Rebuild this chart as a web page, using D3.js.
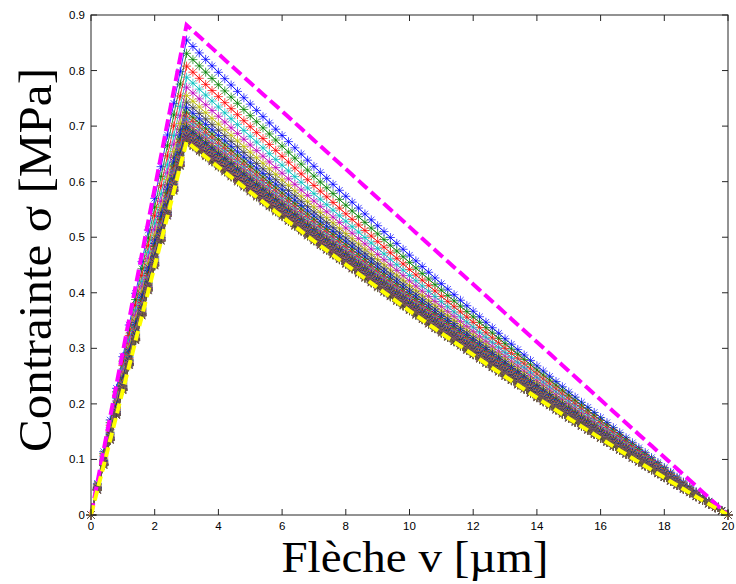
<!DOCTYPE html>
<html><head><meta charset="utf-8">
<script src="https://cdn.jsdelivr.net/npm/d3@7/dist/d3.min.js"></script>
<style>body{margin:0;background:#fff}svg{display:block}</style>
</head><body><svg id="c" width="736" height="584"></svg>
<script>
// ---- data ----
const xTicks = [0, 2, 4, 6, 8, 10, 12, 14, 16, 18, 20];
const yTicks = [0, 0.1, 0.2, 0.3, 0.4, 0.5, 0.6, 0.7, 0.8, 0.9];
const yTickLabels = ["0", "0.1", "0.2", "0.3", "0.4", "0.5", "0.6", "0.7", "0.8", "0.9"];
const peakDeflection = 3;     // µm
const endDeflection = 20;     // µm
const sampleStep = 0.2;       // µm between stored points
// relative stress (stress / peak stress) on the softening branch
const softeningDeflection = [3, 4, 5, 6, 7, 8, 9, 10, 11, 12, 13, 14, 15, 16, 17, 18, 19, 20];
const softeningCurved = [1, 0.932, 0.865, 0.799, 0.734, 0.671, 0.609, 0.547, 0.487, 0.429, 0.371, 0.314, 0.259, 0.205, 0.152, 0.100, 0.049, 0];
const softeningStraight = [1, 0.941, 0.882, 0.824, 0.765, 0.706, 0.647, 0.588, 0.529, 0.471, 0.412, 0.353, 0.294, 0.235, 0.176, 0.118, 0.059, 0];
const upperBoundPeak = 0.882; // magenta dashed
const lowerBoundPeak = 0.672; // yellow dashed
const seriesPeaks = [0.855, 0.831, 0.808, 0.788, 0.770, 0.755, 0.743, 0.733, 0.725, 0.718,
  0.712, 0.707, 0.703, 0.699, 0.696, 0.693, 0.690, 0.688, 0.686, 0.684,
  0.682, 0.681, 0.680, 0.679, 0.678, 0.677, 0.676, 0.675, 0.675, 0.674,
  0.674, 0.673, 0.673, 0.672, 0.672];
const colorOrder = ["#0000ff", "#008000", "#ff0000", "#00bfbf", "#bf00bf", "#bfbf00", "#404040"];

// ---- layout ----
const svg = d3.select("#c");
const L = 91, R = 728, T = 15, B = 515;
const x = d3.scaleLinear().domain([0, 20]).range([L, R]);
const y = d3.scaleLinear().domain([0, 0.9]).range([B, T]);

const samples = d3.range(0, Math.round(endDeflection / sampleStep) + 1).map(i => +(i * sampleStep).toFixed(4));
const rise = d3.scaleLinear().domain([0, peakDeflection]).range([0, 1]);
const softC = d3.scaleLinear().domain(softeningDeflection).range(softeningCurved);
const softS = d3.scaleLinear().domain(softeningDeflection).range(softeningStraight);
function curve(peak, soft) {
  return samples.map(v => ({ v, s: peak * (v <= peakDeflection ? rise(v) : soft(v)) }));
}
const line = d3.line().x(d => x(d.v)).y(d => y(d.s));
const star = "M-4.5,0H4.5M0,-4.5V4.5M-3.2,-3.2L3.2,3.2M-3.2,3.2L3.2,-3.2";

const plot = svg.append("g");
seriesPeaks.forEach((p, i) => {
  const col = colorOrder[i % colorOrder.length];
  const data = curve(p, softC);
  const g = plot.append("g");
  g.append("path").attr("d", line(data)).attr("fill", "none").attr("stroke", col).attr("stroke-width", 0.8);
  g.selectAll("path.m").data(data).join("path").attr("class", "m")
    .attr("transform", d => `translate(${x(d.v)},${y(d.s)})`)
    .attr("d", star).attr("fill", "none").attr("stroke", col).attr("stroke-width", 1).attr("stroke-opacity", 0.7);
});
const bounds = [
  { p: upperBoundPeak, soft: softS, col: "#ff00ff", dash: "12,5" },
  { p: lowerBoundPeak, soft: softC, col: "#ffff00", dash: "10,5" }
];
bounds.forEach(b => {
  plot.append("path").attr("d", line(curve(b.p, b.soft))).attr("fill", "none").attr("stroke", b.col)
    .attr("stroke-width", 4).attr("stroke-dasharray", b.dash).attr("stroke-linejoin", "miter");
});

// ---- axes (box with inward ticks) ----
const ax = svg.append("g").attr("stroke", "#262626").attr("fill", "none");
ax.append("rect").attr("x", L).attr("y", T).attr("width", R - L).attr("height", B - T).attr("stroke-width", 1);
const tl = 6;
xTicks.forEach(t => {
  ax.append("line").attr("x1", x(t)).attr("x2", x(t)).attr("y1", B).attr("y2", B - tl);
  ax.append("line").attr("x1", x(t)).attr("x2", x(t)).attr("y1", T).attr("y2", T + tl);
});
yTicks.forEach(t => {
  ax.append("line").attr("x1", L).attr("x2", L + tl).attr("y1", y(t)).attr("y2", y(t));
  ax.append("line").attr("x1", R).attr("x2", R - tl).attr("y1", y(t)).attr("y2", y(t));
});
const tf = "Liberation Sans, Arial, sans-serif";
svg.append("g").selectAll("text").data(xTicks).join("text")
  .attr("x", d => x(d)).attr("y", 530).attr("text-anchor", "middle")
  .attr("font-family", tf).attr("font-size", 11.5).attr("fill", "#000").text(d => d);
svg.append("g").selectAll("text").data(yTicks).join("text")
  .attr("x", 85).attr("y", d => y(d) + 4).attr("text-anchor", "end")
  .attr("font-family", tf).attr("font-size", 11.5).attr("fill", "#000").text((d, i) => yTickLabels[i]);

const sf = "Liberation Serif, Times New Roman, serif";
svg.append("text").attr("x", 415).attr("y", 572).attr("text-anchor", "middle")
  .attr("font-family", sf).attr("font-size", 45).attr("fill", "#000")
  .attr("textLength", 267).attr("lengthAdjust", "spacingAndGlyphs").text("Flèche v [µm]");
svg.append("text").attr("transform", "translate(51,260) rotate(-90)").attr("text-anchor", "middle")
  .attr("font-family", sf).attr("font-size", 47).attr("fill", "#000")
  .attr("textLength", 384).attr("lengthAdjust", "spacingAndGlyphs").text("Contrainte σ [MPa]");
</script></body></html>
